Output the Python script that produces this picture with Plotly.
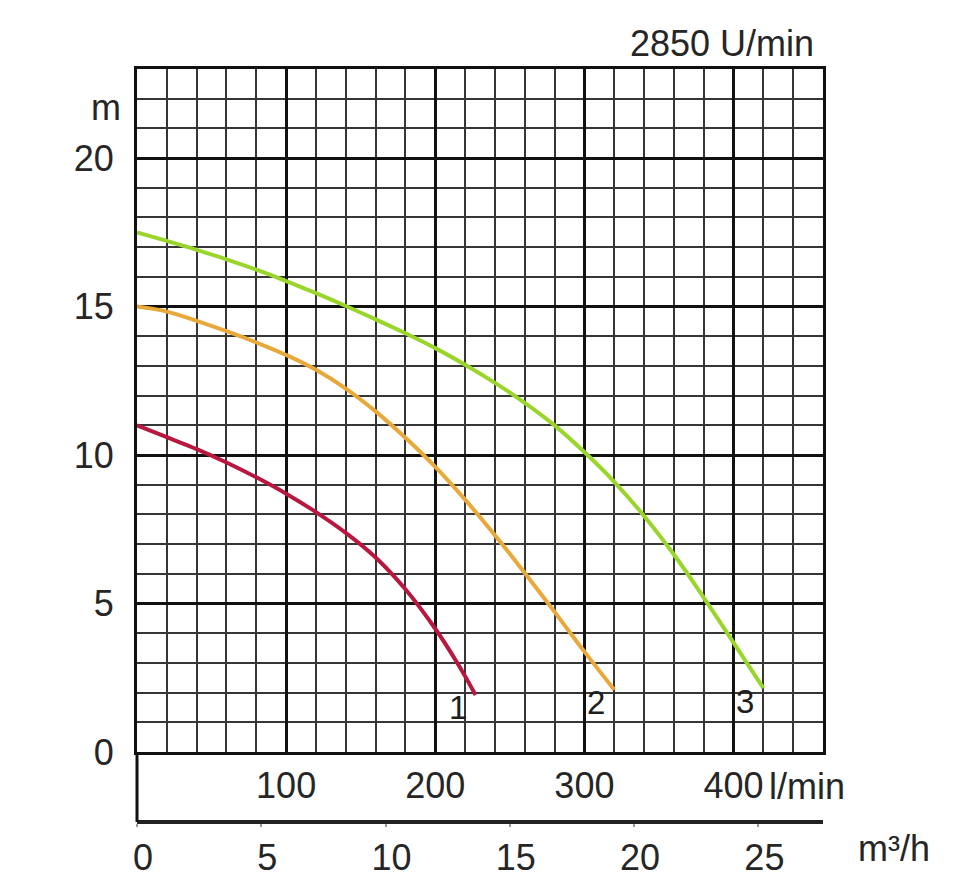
import plotly.graph_objects as go

# ---- data (flow in l/min, head in m) ----
flow_1 = [0, 20, 40, 60, 80, 100, 120, 140, 160, 180, 200, 215, 227]
head_1 = [11.0, 10.6, 10.2, 9.75, 9.25, 8.7, 8.08, 7.38, 6.55, 5.48, 4.15, 2.98, 1.92]

flow_2 = [0, 20, 40, 60, 80, 100, 120, 140, 160, 180, 200, 220, 240, 260, 280, 300, 320]
head_2 = [15.0, 14.83, 14.52, 14.17, 13.79, 13.37, 12.87, 12.24, 11.47, 10.58, 9.6, 8.5, 7.3, 6.03, 4.72, 3.38, 2.1]

flow_3 = [0, 20, 40, 60, 80, 100, 120, 140, 160, 180, 200, 220, 240, 260, 280, 300, 320, 340, 360, 380, 400, 420]
head_3 = [17.5, 17.21, 16.91, 16.59, 16.24, 15.86, 15.45, 15.02, 14.57, 14.1, 13.6, 13.04, 12.43, 11.76, 11.0, 10.1,
          9.1, 7.95, 6.65, 5.2, 3.68, 2.15]

curve_names = ["1", "2", "3"]
curve_colors = ["#b8173f", "#e9a93a", "#9ad52b"]

lmin_ticks = [0, 100, 200, 300, 400]
lmin_text = ["", "100", "200", "300", "400"]
m3h_ticks = [0, 5, 10, 15, 20, 25]
head_ticks = [0, 5, 10, 15, 20]

title_text = "2850 U/min"
head_unit = "m"
lmin_unit = "l/min"
m3h_unit = "m³/h"

X_MAX = 460  # l/min
Y_MAX = 23   # m

FONT = "Liberation Sans, Arial, sans-serif"
TXT = "#262626"
FS = 36

W, H = 960, 889
ML, MR, MT, MB = 137, 137, 69, 67
plot_h = H - MT - MB
band = 70  # px between main plot bottom and m3/h axis
ydom0 = band / plot_h

fig = go.Figure()
for fx, hy, name, col in zip([flow_1, flow_2, flow_3], [head_1, head_2, head_3], curve_names, curve_colors):
    fig.add_trace(go.Scatter(x=fx, y=hy, mode="lines", name=name,
                             line=dict(color=col, width=4, shape="spline", smoothing=1.2),
                             showlegend=False, hoverinfo="skip"))
    fig.add_annotation(x=fx[-1], y=hy[-1], xref="x", yref="y", text=name, showarrow=False,
                       xshift=-18, yshift=-13, font=dict(family=FONT, size=33, color="#1e1e1e"))

# invisible trace to activate the m3/h axis
fig.add_trace(go.Scatter(x=[0, X_MAX * 60 / 1000], y=[None, None], xaxis="x2", yaxis="y",
                         mode="markers", showlegend=False, hoverinfo="skip"))

fig.update_layout(
    width=W, height=H,
    margin=dict(l=ML, r=MR, t=MT, b=MB, autoexpand=False),
    paper_bgcolor="white", plot_bgcolor="white",
    font=dict(family=FONT, color=TXT),
    xaxis=dict(range=[0, X_MAX], domain=[0, 1], anchor="y",
               tickmode="array", tickvals=lmin_ticks, ticktext=lmin_text,
               showgrid=True, gridcolor="#111", gridwidth=2.6,
               minor=dict(tickmode="linear", tick0=0, dtick=20, showgrid=True,
                          gridcolor="#363636", gridwidth=1.7),
               showline=True, linecolor="#111", linewidth=3, mirror=True,
               ticks="", ticklabelstandoff=0, zeroline=False,
               tickfont=dict(size=FS, color=TXT), automargin=False, fixedrange=True),
    xaxis2=dict(range=[0, X_MAX * 60 / 1000], overlaying="x", anchor="free", position=0,
                side="bottom", tickmode="array", tickvals=m3h_ticks,
                showgrid=False, zeroline=False,
                showline=True, linecolor="#222", linewidth=3.5,
                ticks="outside", ticklen=3, tickwidth=1.5, tickcolor="#999",
                ticklabelshift=6, ticklabelstandoff=0,
                tickfont=dict(size=FS, color=TXT), automargin=False, fixedrange=True),
    yaxis=dict(range=[0, Y_MAX], domain=[ydom0, 1],
               tickmode="array", tickvals=head_ticks,
               showgrid=True, gridcolor="#111", gridwidth=2.6,
               minor=dict(tickmode="linear", tick0=0, dtick=1, showgrid=True,
                          gridcolor="#363636", gridwidth=1.7),
               showline=True, linecolor="#111", linewidth=3, mirror=True,
               ticks="", ticklabelstandoff=13, zeroline=False,
               tickfont=dict(size=FS, color=TXT), automargin=False, fixedrange=True),
)

# left border of the lower band
fig.add_shape(type="line", xref="paper", yref="paper", x0=0, x1=0, y0=0, y1=ydom0,
              line=dict(color="#111", width=3))

def py(px):
    return (H - MB - px) / plot_h

def px_x(px):
    return (px - ML) / (W - ML - MR)

fig.add_annotation(xref="paper", yref="paper", x=px_x(816), y=py(43), text=title_text,
                   showarrow=False, xanchor="right", yanchor="middle",
                   font=dict(family=FONT, size=FS, color=TXT))
fig.add_annotation(xref="paper", yref="paper", x=px_x(123), y=py(108), text=head_unit,
                   showarrow=False, xanchor="right", yanchor="middle",
                   font=dict(family=FONT, size=FS, color=TXT))
fig.add_annotation(xref="x", yref="paper", x=400, y=py(786), text=lmin_unit,
                   showarrow=False, xanchor="left", yanchor="middle", xshift=33,
                   font=dict(family=FONT, size=FS, color=TXT))
fig.add_annotation(xref="paper", yref="paper", x=px_x(856), y=py(848), text=m3h_unit,
                   showarrow=False, xanchor="left", yanchor="middle",
                   font=dict(family=FONT, size=FS, color=TXT))

fig.write_html("out.html")
